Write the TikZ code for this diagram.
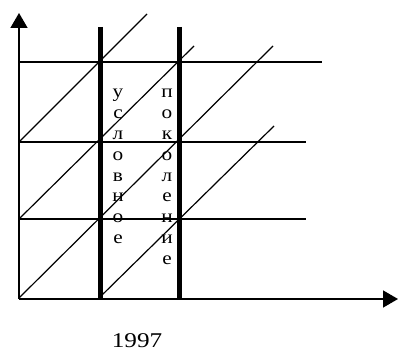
\documentclass[tikz,border=0pt]{standalone}
\usepackage{fontspec}
\setmainfont{Liberation Serif}
\usetikzlibrary{arrows.meta, positioning}

\begin{document}
\begin{tikzpicture}[
    x=1pt, y=-1pt,
    axis/.style   = {line width=1.5pt, -{Triangle[length=15pt, width=17pt]}},
    grid/.style   = {line width=1.2pt},
    diag/.style   = {line width=1.2pt},
    bar/.style    = {line width=5pt},
    letter/.style = {font=\fontsize{18.5}{18.5}\selectfont, anchor=base,
                     inner sep=0pt, xscale=1.15},
    year/.style   = {font=\fontsize{21}{21}\selectfont, anchor=base,
                     inner sep=0pt, xscale=1.2},
]
\useasboundingbox (0,0) rectangle (398,352);

%% ---- Axes ----
\coordinate (origin) at (19,299);
\coordinate (ytip)   at (19,13);
\coordinate (xtip)   at (398,299);
\draw[axis] (origin) -- (ytip);
\draw[axis] (origin) -- (xtip);

%% ---- Horizontal levels ----
\coordinate (h1) at (19,62);  \coordinate (h1e) at (322,62);
\coordinate (h2) at (19,142); \coordinate (h2e) at (306,142);
\coordinate (h3) at (19,219); \coordinate (h3e) at (306,219);
\draw[grid] (h1) -- (h1e);
\draw[grid] (h2) -- (h2e);
\draw[grid] (h3) -- (h3e);

%% ---- Diagonals ----
\coordinate (d1s) at (19,142);  \coordinate (d1e) at (147,14);
\coordinate (d2s) at (19,219);  \coordinate (d2e) at (194,46);
\coordinate (d3s) at (19,298);  \coordinate (d3e) at (273,46);
\coordinate (d4s) at (99,298);  \coordinate (d4e) at (274,126);
\draw[diag] (d1s) -- (d1e);
\draw[diag] (d2s) -- (d2e);
\draw[diag] (d3s) -- (d3e);
\draw[diag] (d4s) -- (d4e);

%% ---- Thick bars ----
\coordinate (b1top) at (100,27); \coordinate (b1bot) at (100,298);
\coordinate (b2top) at (179,27); \coordinate (b2bot) at (179,298);
\draw[bar] (b1top) -- (b1bot);
\draw[bar] (b2top) -- (b2bot);

%% ---- Vertical words ----
\foreach \ch [count=\i from 0] in {у,с,л,о,в,н,о,е}
    \node[letter] (u\i) at (118, 98+20.8*\i) {\ch};
\foreach \ch [count=\i from 0] in {п,о,к,о,л,е,н,и,е}
    \node[letter] (p\i) at (167, 98+20.8*\i) {\ch};

%% ---- Year ----
\node[year] (year) at (137,347) {1997};

\end{tikzpicture}
\end{document}
